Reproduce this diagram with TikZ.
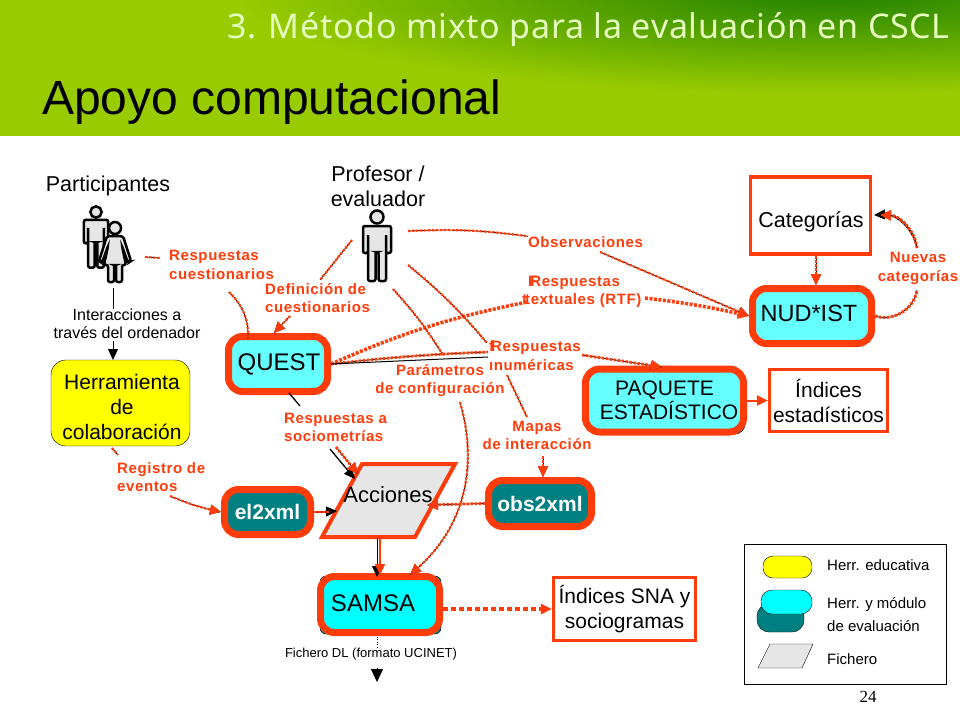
\documentclass[tikz,border=0pt]{standalone}
\usepackage{fontspec}
\setmainfont{Liberation Sans}
\newfontfamily\lblfont[LetterSpace=4]{Liberation Sans}
\newfontfamily\headfont[LetterSpace=2]{Noto Sans}
\newfontfamily\numfont{Liberation Serif}
\usetikzlibrary{arrows.meta}
\definecolor{barGreen}{HTML}{99CC00}
\definecolor{barDark}{HTML}{1F8000}
\definecolor{headLight}{HTML}{E6FFC0}
\definecolor{flowRed}{HTML}{FF3C0A}
\definecolor{toolCyan}{HTML}{66FFFF}
\definecolor{toolFull}{HTML}{00FFFF}
\definecolor{toolTeal}{HTML}{008080}
\definecolor{herrYellow}{HTML}{FFFF00}
\definecolor{fileGray}{HTML}{E6E6E6}
\newcommand{\px}[1]{\fontsize{#1}{#1}\selectfont}

\tikzset{
  tool/.style={draw=flowRed, fill=toolCyan, line width=7pt, rounded corners=14pt, inner sep=0pt, align=center},
  modul/.style={tool, fill=toolTeal, text=white, font=\px{21}\bfseries},
  result/.style={draw=flowRed, fill=white, line width=3.2pt, inner sep=0pt, align=center},
  lbl/.style={text=flowRed, inner sep=0pt, align=left, font=\lblfont\bfseries\fontsize{15}{18.5}\selectfont},
  txt/.style={inner sep=0pt, align=center, font=\px{21.5}},
  small/.style={inner sep=0pt, align=left, font=\fontsize{16}{18}\selectfont},
  flow/.style={draw=flowRed, line width=2.2pt, dash pattern=on 2.5pt off 1.5pt,
               preaction={draw=black, line width=.7pt, solid}},
  fatflow/.style={draw=flowRed, line width=3.5pt, dash pattern=on 3pt off 1.5pt},
  dotflow/.style={draw=flowRed, line width=3.5pt, dash pattern=on 4.5pt off 3.5pt},
  plain/.style={draw=black, line width=1pt},
  man/.pic={
    \fill [fileGray, draw=black, line width=2.5pt] (0,0) circle (6.5) ;
    \draw [fill=fileGray, line width=2.5pt, rounded corners=2pt]
      (-14,9) -- (14,9) -- (14,36) -- (9,36) -- (9,17) -- (9,64) -- (1.5,64) -- (1.5,35)
      -- (-1.5,35) -- (-1.5,64) -- (-9,64) -- (-9,17) -- (-9,36) -- (-14,36) -- cycle ;
  },
  woman/.pic={
    \fill [fileGray, draw=black, line width=2.5pt] (0,0) circle (6) ;
    \draw [fill=fileGray, line width=2.5pt, rounded corners=2pt]
      (-8,8) -- (8,8) -- (16,33) -- (13,35) -- (7,18) -- (11,37) -- (7,37) -- (7,54) -- (1,54)
      -- (1,37) -- (-1,37) -- (-1,54) -- (-7,54) -- (-7,37) -- (-11,37) -- (-7,18) -- (-13,35)
      -- (-16,33) -- cycle ;
  }
}

\begin{document}
\begin{tikzpicture}[x=1pt, y=-1pt, > = {Triangle[length=11pt, width=10pt]}]
    \useasboundingbox (0,0) rectangle (960,720) ;

    % header band %
    \fill [barGreen] (0,0) rectangle (960,136) ;
    \begin{scope}
      \clip (0,0) rectangle (960,136) ;
      \shade [inner color=barDark, outer color=barGreen] (830,-10) ellipse (600 and 105) ;
    \end{scope}
    \node [anchor=east, inner sep=0pt, text=headLight, font=\headfont\px{34}] at (950,30) (head) {3. Método mixto para la evaluación en CSCL} ;
    \node [anchor=west, inner sep=0pt, font=\px{48}] at (42,102) (title) {Apoyo computacional} ;


    % actors %

    \node [txt] at (108,186) (txt-part) {Participantes} ;
    \node [txt, font=\fontsize{21.5}{25}\selectfont] at (378,186) (txt-prof) {Profesor /\\ evaluador} ;
    \pic [scale=.87] at (96,212) {man} ;
    \pic at (115,228) {woman} ;
    \pic at (377,217) {man} ;


    % tools %

    % back plates of the two evaluation tools
    \fill [toolTeal, draw=black, rounded corners=10pt] (590,374) rectangle (745,434) ;
    \fill [toolTeal, draw=black, rounded corners=6pt] (320,576) rectangle (441,634) ;

    \node [draw, fill=herrYellow, rounded corners=15pt, minimum width=139pt, minimum height=86pt]
          at (120.5,403) (tbox-herr) {} ;
    \node [txt, font=\fontsize{21}{25}\selectfont] at (122,407) (txt-herr) {Herramienta\\de\\colaboración} ;

    \node [tool, minimum width=99pt, minimum height=55pt, font=\px{24}] at (278,364) (tbox-quest) {\hspace*{2pt}QUEST} ;
    \node [tool, minimum width=119pt, minimum height=55pt, font=\px{23.5}] at (812,316) (tbox-nud) {\raisebox{5pt}{NUD*IST}\hspace*{6pt}} ;
    \node [tool, minimum width=158pt, minimum height=63pt, font=\fontsize{21}{24}\selectfont] at (664.5,400.5) (tbox-paq) {PAQUETE\\\hspace*{9pt}ESTADÍSTICO} ;
    \node [modul, minimum width=86pt, minimum height=45pt] at (267.5,512) (tbox-el) {el2xml} ;
    \node [modul, minimum width=103pt, minimum height=46pt] at (540,503.5) (tbox-obs) {obs2xml} ;
    \node [tool, fill=toolFull, minimum width=119pt, minimum height=56pt, font=\px{24}] at (380,604.5) (tbox-samsa) {\raisebox{2pt}{SAMSA}\hspace*{14pt}} ;

    % results
    \node [result, minimum width=120pt, minimum height=77pt] at (810.5,215.5) (tbox-cat) {} ;
    \node [txt] at (811,222) (txt-cat) {Categorías} ;
    \node [result, minimum width=118pt, minimum height=62pt, font=\fontsize{21}{25}\selectfont] at (828.5,400.5) (tbox-ind) {Índices\\estadísticos} ;
    \node [result, minimum width=142pt, minimum height=63pt, font=\fontsize{21}{25}\selectfont] at (624.5,609) (tbox-sna) {Índices SNA y\\sociogramas} ;

    % file
    \draw [draw=flowRed, fill=fileGray, line width=4pt] (362,464) -- (455,464) -- (415,537) -- (322,537) -- cycle ;
    \node [txt, font=\px{22}] at (388,495) (txt-acc) {Acciones} ;
    \node [small, align=center, font=\px{13}] at (371,654) (txt-dl) {Fichero DL (formato UCINET)} ;
    \node [small, align=center] at (127,324) (txt-inter) {Interacciones a\\través del ordenador} ;


    % labels %

    \node [lbl, anchor=west] at (169,265) (lbl-resp) {Respuestas\\cuestionarios} ;
    \node [lbl, anchor=west] at (265,298) (lbl-def) {Definición de\\cuestionarios} ;
    \node [lbl, anchor=west] at (528,242) (lbl-obs) {Observaciones} ;
    \node [lbl, anchor=west] at (522,292) (lbl-txt) {\hspace*{6pt}F\kern-7pt Respuestas\\t\kern-2pt textuales (RTF)} ;
    \node [lbl, anchor=west] at (489,355.5) (lbl-num) {f\kern-3pt Respuestas\\ınuméricas} ;
    \node [lbl, align=center] at (440,380.5) (lbl-par) {Parámetros\\de configuración} ;
    \node [lbl, align=center] at (537,435.5) (lbl-map) {Mapas\\de interacción} ;
    \node [lbl, anchor=west] at (284,427.5) (lbl-soc) {Respuestas a\\sociometrías} ;
    \node [lbl, anchor=west] at (117,477) (lbl-reg) {Registro de\\eventos} ;
    \node [lbl, align=center] at (918,268.5) (lbl-nue) {Nuevas\\categorías} ;


    % connectors, free ends %

    \coordinate (fig-part) at (145,257) ;
    \coordinate (fig-line) at (113,288) ;
    \coordinate (fig-def) at (352,240) ;
    \coordinate (fig-obs) at (408,231) ;
    \coordinate (fig-par) at (393,289) ;
    \coordinate (fig-map) at (408,265) ;
    \coordinate (end-dl) at (377,682) ;

    % participants
    \draw [flow] (fig-part) -- (160,258) ;
    \draw [flow] (229,292) to [bend left=24] (248,340) ;
    \draw [line width=.8pt] (fig-line) -- (txt-inter.north -| fig-line) ;
    \draw [line width=.8pt, ->] (113,341) -- (113,360) ;

    % definition of questionnaires
    \draw [flow] (fig-def) -- (320,280) ;
    \draw [flow, ->] (290,316) -- (274,333) ;

    % observations
    \draw [flow] (fig-obs) to [bend left=5] (lbl-obs.north west) ;
    \draw [flow, ->] (600,252) -- (tbox-nud.west) ;

    % textual answers
    \draw [fatflow] (tbox-quest.east) to [bend left=6] (527,302) ;
    \draw [fatflow, ->] (645,298) to [bend left=3] (tbox-nud.west) ;

    % numeric answers
    \draw [flow, line width=2.8pt] (tbox-quest.east) to [bend right=-2] (488,352) ;
    \draw [plain] (tbox-quest.east) -- (488,357) ;
    \draw [flow, line width=2.8pt, ->] (582,355) -- (662,367) ;

    % configuration
    \draw [flow] (fig-par) to [bend left=5] (443,355) ;
    \draw [flow, ->] (460,402) to [bend left=32] (410,575) ;

    % interaction maps
    \draw [flow] (fig-map) to [bend left=5] (487,343) ;
    \draw [flow] (507,375) -- (527,417) ;
    \draw [flow, ->] (543,456) -- (tbox-obs.north -| 543,0) ;

    % sociometries
    \draw [plain, line width=1.3pt] (289,393) -- (300,406) ;
    \draw [plain, line width=1.3pt, ->] (330,449) -- (355,479) ;
    \draw [flow, line width=2.8pt, ->] (336,447) -- (358,474) ;

    % events
    \draw [flow] (112,448) -- (118,455) ;
    \draw [flow, ->] (170,496) to [bend right=5] (tbox-el.west) ;
    \draw [plain, ->] (tbox-el.east) -- (337,511) ;
    \draw [flow] (tbox-el.east) -- (330,512) ;

    % observation file
    \draw [flow, line width=2.8pt, ->] (tbox-obs.west) -- (427,505) ;

    % file to SAMSA
    \draw [plain, ->] (377,538) -- (377,577) ;
    \draw [draw=flowRed, line width=2pt, ->] (380,538) -- (380,575) ;

    % SAMSA outputs
    \draw [dotflow, ->] (tbox-samsa.east |- tbox-sna.west) -- (tbox-sna.west) ;
    \draw [dotted] (377,637) -- (txt-dl.north -| 377,0) ;
    \draw [line width=.8pt, -{Triangle[length=13pt, width=12pt]}] (377,668) -- (end-dl) ;

    % categories
    \draw [flow, line width=2.8pt, ->] (816,256) -- (tbox-nud.north -| 816,0) ;
    \draw [flow, line width=3pt] (tbox-nud.east) to [bend right=50] (917,290) ;
    \draw [plain, ->] (917,248) to [bend right=40] (874,215) ;
    \draw [flow, line width=3pt, ->] (917,248) to [bend right=40] (880,215) ;

    % statistics
    \draw [draw=flowRed, line width=2pt, ->] (tbox-paq.east |- tbox-ind.west) -- (tbox-ind.west) ;


    % legend %

    \draw (744,544) rectangle (946,684) ;
    \node [draw, fill=herrYellow, rounded corners=10pt, minimum width=49pt, minimum height=22pt] at (787.5,567) (leg-yel) {} ;
    \node [draw, fill=toolTeal, rounded corners=12pt, minimum width=47pt, minimum height=28pt] at (780.5,618) (leg-teal) {} ;
    \node [draw, fill=toolFull, rounded corners=11pt, minimum width=51pt, minimum height=24pt] at (786.5,602) (leg-cyan) {} ;
    \draw [fill=fileGray] (770,644) -- (813,644) -- (802,668) -- (758,668) -- cycle ;
    \node [small, anchor=west, font=\px{15}] at (827,565) (leg-edu) {Herr. educativa} ;
    \node [small, anchor=west, font=\fontsize{15}{23}\selectfont] at (827,614.5) (leg-eval) {Herr. y módulo\\de evaluación} ;
    \node [small, anchor=west, font=\px{15}] at (827,659) (leg-fil) {Fichero} ;

    % page number
    \node [inner sep=0pt, font=\numfont\px{17}] at (868,697) (txt-page) {24} ;

  \end{tikzpicture}
\end{document}
